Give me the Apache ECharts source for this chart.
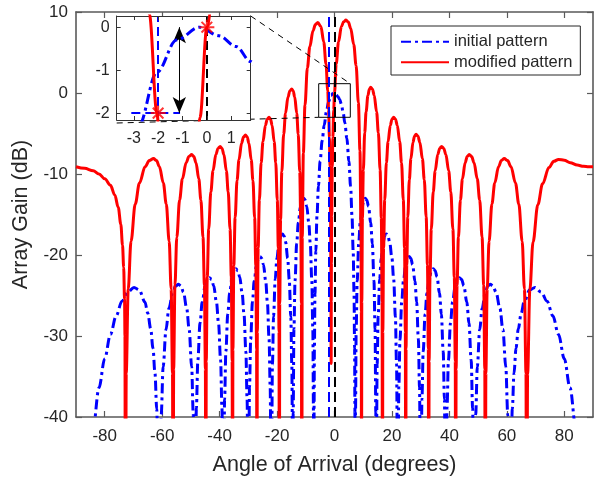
<!DOCTYPE html>
<html><head><meta charset="utf-8">
<script src="https://cdn.jsdelivr.net/npm/echarts@6/dist/echarts.min.js"></script>
<style>html,body{margin:0;padding:0;background:#fff}#c{width:603px;height:478px}</style>
</head><body><div id="c"></div>
<script>
// ---- data (angle in degrees, gain in dB) ----
const initialPattern = [
[-90,-70],[-88,-60],[-86,-48.4],[-84,-41.3],[-82,-36.4],[-80,-32.8],[-78,-29.8],[-76,-27.5],[-74,-25.7],[-72,-24.6],[-69.8,-24.0],[-68,-24.3],[-66,-25.8],[-65,-27.2],[-64,-29.1],[-63.2,-31.5],[-62.5,-34.6],[-61.9,-39],[-61.5,-44.4],[-61,-70],
[-60.8,-50.1],[-60.33,-39.7],[-59.66,-33.8],[-58.66,-29.2],[-57.65,-26.6],[-56.31,-24.6],[-55.31,-23.84],[-54.3,-23.6],[-53.45,-23.84],[-52.59,-24.6],[-51.45,-26.6],[-50.6,-29.2],[-49.74,-33.8],[-49.17,-39.7],[-48.77,-50.1],[-48.6,-70],
[-48.45,-49.3],[-48.09,-38.9],[-47.58,-33.0],[-46.82,-28.4],[-46.05,-25.8],[-45.03,-23.8],[-44.27,-23.04],[-43.5,-22.8],[-42.78,-23.04],[-42.06,-23.8],[-41.1,-25.8],[-40.38,-28.4],[-39.66,-33.0],[-39.18,-38.9],[-38.84,-49.3],[-38.7,-70],
[-38.57,-48.2],[-38.26,-37.8],[-37.82,-31.9],[-37.16,-27.3],[-36.5,-24.7],[-35.62,-22.7],[-34.96,-21.94],[-34.3,-21.7],[-33.66,-21.94],[-33.01,-22.7],[-32.15,-24.7],[-31.51,-27.3],[-30.86,-31.9],[-30.43,-37.8],[-30.13,-48.2],[-30,-70],
[-29.88,-46.7],[-29.59,-36.3],[-29.18,-30.4],[-28.57,-25.8],[-27.95,-23.2],[-27.13,-21.2],[-26.52,-20.44],[-25.9,-20.2],[-25.32,-20.44],[-24.73,-21.2],[-23.95,-23.2],[-23.37,-25.8],[-22.78,-30.4],[-22.39,-36.3],[-22.12,-46.7],[-22,-70],
[-21.88,-43.9],[-21.61,-33.5],[-21.22,-27.6],[-20.64,-23.0],[-20.05,-20.4],[-19.27,-18.4],[-18.69,-17.64],[-18.1,-17.4],[-17.56,-17.64],[-17.02,-18.4],[-16.3,-20.4],[-15.76,-23.0],[-15.22,-27.6],[-14.86,-33.5],[-14.61,-43.9],[-14.5,-70],
[-14.39,-39.5],[-14.12,-29.1],[-13.74,-23.2],[-13.17,-18.6],[-12.6,-16.0],[-11.84,-14.0],[-11.27,-13.24],[-10.7,-13.0],[-10.18,-13.24],[-9.65,-14.0],[-8.95,-16.0],[-8.43,-18.6],[-7.9,-23.2],[-7.55,-29.1],[-7.31,-39.5],[-7.2,-70],
[-7.1,-38.5],[-7.0,-31.5],[-6.8,-24.8],[-6.5,-19.5],[-6.1,-15.2],[-5.6,-11.5],[-5.0,-8.4],[-4.3,-5.9],[-3.6,-4.0],[-2.8,-2.3],[-2.05,-1.05],[-1.24,-0.3],[-0.3,0],[0.5,-0.2],[1.2,-0.45],[1.8,-0.8],[2.4,-1.4],[3.0,-2.4],[3.6,-3.7],[4.3,-5.6],[5.0,-8.4],[5.6,-11.5],[6.1,-15.2],[6.5,-19.5],[6.8,-24.8],[7.0,-31.5],[7.1,-38.5],[7.2,-70],
[7.31,-39.5],[7.55,-29.1],[7.9,-23.2],[8.43,-18.6],[8.95,-16.0],[9.65,-14.0],[10.18,-13.24],[10.7,-13.0],[11.27,-13.24],[11.84,-14.0],[12.6,-16.0],[13.17,-18.6],[13.74,-23.2],[14.12,-29.1],[14.39,-39.5],[14.5,-70],
[14.61,-43.9],[14.85,-33.5],[15.2,-27.6],[15.73,-23.0],[16.25,-20.4],[16.95,-18.4],[17.48,-17.64],[18.0,-17.4],[18.6,-17.64],[19.2,-18.4],[20.0,-20.4],[20.6,-23.0],[21.2,-27.6],[21.6,-33.5],[21.88,-43.9],[22,-70],
[22.12,-46.7],[22.4,-36.3],[22.8,-30.4],[23.4,-25.8],[24.0,-23.2],[24.8,-21.2],[25.4,-20.44],[26.0,-20.2],[26.6,-20.44],[27.2,-21.2],[28.0,-23.2],[28.6,-25.8],[29.2,-30.4],[29.6,-36.3],[29.88,-46.7],[30,-70],
[30.13,-48.2],[30.44,-37.8],[30.88,-31.9],[31.54,-27.3],[32.2,-24.7],[33.08,-22.7],[33.74,-21.94],[34.4,-21.7],[35.05,-21.94],[35.69,-22.7],[36.55,-24.7],[37.2,-27.3],[37.84,-31.9],[38.27,-37.8],[38.57,-48.2],[38.7,-70],
[38.84,-49.3],[39.18,-38.9],[39.66,-33.0],[40.38,-28.4],[41.1,-25.8],[42.06,-23.8],[42.78,-23.04],[43.5,-22.8],[44.27,-23.04],[45.03,-23.8],[46.05,-25.8],[46.82,-28.4],[47.58,-33.0],[48.09,-38.9],[48.45,-49.3],[48.6,-70],
[48.77,-50.1],[49.16,-39.7],[49.72,-33.8],[50.56,-29.2],[51.4,-26.6],[52.52,-24.6],[53.36,-23.84],[54.2,-23.6],[55.22,-23.84],[56.24,-24.6],[57.6,-26.6],[58.62,-29.2],[59.64,-33.8],[60.32,-39.7],[60.8,-50.1],[61,-70],
[61.5,-44.4],[61.9,-39],[62.5,-34.6],[63.2,-31.5],[64,-29.1],[65,-27.2],[66,-25.8],[68,-24.3],[69.8,-24.0],[72,-24.6],[74,-25.7],[76,-27.5],[78,-29.8],[80,-32.8],[82,-36.4],[84,-41.3],[86,-48.4],[88,-60],[90,-70]
];
const modifiedPattern = [
[-90,-9.1],[-87,-9.3],[-84,-9.6],[-82,-10.0],[-80,-10.6],[-78,-11.4],[-76.5,-12.6],[-75.3,-14.1],[-74.4,-16.2],[-73.8,-18.8],[-73.4,-21.5],[-73.1,-25.5],[-72.95,-30],[-72.8,-70],
[-72.51,-34.6],[-71.82,-24.2],[-70.84,-18.3],[-69.37,-13.7],[-67.9,-11.1],[-65.94,-9.1],[-64.47,-8.34],[-63.0,-8.1],[-61.98,-8.34],[-60.96,-9.1],[-59.6,-11.1],[-58.58,-13.7],[-57.56,-18.3],[-56.88,-24.2],[-56.4,-34.6],[-56.2,-70],
[-56.0,-34.1],[-55.55,-23.7],[-54.9,-17.8],[-53.93,-13.2],[-52.95,-10.6],[-51.65,-8.6],[-50.68,-7.84],[-49.7,-7.6],[-48.97,-7.84],[-48.23,-8.6],[-47.25,-10.6],[-46.52,-13.2],[-45.78,-17.8],[-45.29,-23.7],[-44.95,-34.1],[-44.8,-70],
[-44.65,-33.1],[-44.3,-22.7],[-43.8,-16.8],[-43.05,-12.2],[-42.3,-9.6],[-41.3,-7.6],[-40.55,-6.84],[-39.8,-6.6],[-39.16,-6.84],[-38.51,-7.6],[-37.65,-9.6],[-37.01,-12.2],[-36.36,-16.8],[-35.93,-22.7],[-35.63,-33.1],[-35.5,-70],
[-35.37,-31.7],[-35.05,-21.3],[-34.6,-15.4],[-33.93,-10.8],[-33.25,-8.2],[-32.35,-6.2],[-31.68,-5.44],[-31.0,-5.2],[-30.4,-5.44],[-29.8,-6.2],[-29.0,-8.2],[-28.4,-10.8],[-27.8,-15.4],[-27.4,-21.3],[-27.12,-31.7],[-27.0,-70],
[-26.87,-29.5],[-26.58,-19.1],[-26.16,-13.2],[-25.53,-8.6],[-24.9,-6.0],[-24.06,-4.0],[-23.43,-3.24],[-22.8,-3.0],[-22.26,-3.24],[-21.72,-4.0],[-21.0,-6.0],[-20.46,-8.6],[-19.92,-13.2],[-19.56,-19.1],[-19.31,-29.5],[-19.2,-70],
[-19.07,-26.0],[-18.77,-15.6],[-18.34,-9.7],[-17.7,-5.1],[-17.05,-2.5],[-16.19,-0.5],[-15.55,0.26],[-14.9,0.5],[-14.38,0.26],[-13.85,-0.5],[-13.15,-2.5],[-12.63,-5.1],[-12.1,-9.7],[-11.75,-15.6],[-11.51,-26.0],[-11.4,-70],
[-11.23,-17.8],[-10.84,-7.4],[-10.28,-1.5],[-9.44,3.1],[-8.6,5.7],[-7.48,7.7],[-6.64,8.46],[-5.8,8.7],[-4.74,8.2],[-3.74,6.3],[-2.97,3.6],[-2.36,0.3],[-2.05,-2.0],[-1.77,-5.5],[-1.57,-9.1],[-1.37,-15.1],[-1.27,-21],[-1.22,-25.7],[-1.17,-33.4],[-1.12,-25.7],[-1.07,-21],[-0.97,-15.1],[-0.77,-9.1],[-0.57,-5.5],[-0.28,-2.1],[0,0],[0.6,3.6],[1.4,6.3],[2.4,8.2],[3.2,8.8],[4.0,9.0],[4.81,8.76],[5.62,8.0],[6.7,6.0],[7.51,3.4],[8.32,-1.2],[8.86,-7.1],[9.24,-17.5],[9.35,-27],[9.4,-70],
[9.5,-25.8],[9.72,-15.4],[10.04,-9.5],[10.52,-4.9],[11.0,-2.3],[11.64,-0.3],[12.12,0.46],[12.6,0.7],[13.22,0.46],[13.83,-0.3],[14.65,-2.3],[15.27,-4.9],[15.88,-9.5],[16.29,-15.4],[16.58,-25.8],[16.7,-70],
[16.82,-29.5],[17.09,-19.1],[17.48,-13.2],[18.07,-8.6],[18.65,-6.0],[19.43,-4.0],[20.02,-3.24],[20.6,-3.0],[21.23,-3.24],[21.86,-4.0],[22.7,-6.0],[23.33,-8.6],[23.96,-13.2],[24.38,-19.1],[24.67,-29.5],[24.8,-70],
[24.91,-31.6],[25.16,-21.2],[25.52,-15.3],[26.06,-10.7],[26.6,-8.1],[27.32,-6.1],[27.86,-5.34],[28.4,-5.1],[29.06,-5.34],[29.72,-6.1],[30.6,-8.1],[31.26,-10.7],[31.92,-15.3],[32.36,-21.2],[32.67,-31.6],[32.8,-70],
[32.94,-33.1],[33.25,-22.7],[33.7,-16.8],[34.38,-12.2],[35.05,-9.6],[35.95,-7.6],[36.63,-6.84],[37.3,-6.6],[38.04,-6.84],[38.77,-7.6],[39.75,-9.6],[40.49,-12.2],[41.22,-16.8],[41.71,-22.7],[42.05,-33.1],[42.2,-70],
[42.34,-34.1],[42.67,-23.7],[43.14,-17.8],[43.85,-13.2],[44.55,-10.6],[45.49,-8.6],[46.2,-7.84],[46.9,-7.6],[47.74,-7.84],[48.58,-8.6],[49.7,-10.6],[50.54,-13.2],[51.38,-17.8],[51.94,-23.7],[52.33,-34.1],[52.5,-70],
[52.7,-34.6],[53.16,-24.2],[53.82,-18.3],[54.81,-13.7],[55.8,-11.1],[57.12,-9.1],[58.11,-8.34],[59.1,-8.1],[60.27,-8.34],[61.44,-9.1],[63.0,-11.1],[64.17,-13.7],[65.34,-18.3],[66.12,-24.2],[66.67,-34.6],[66.9,-70],
[67.23,-34.7],[68.01,-24.3],[69.12,-18.4],[70.79,-13.8],[72.45,-11.2],[74.67,-9.2],[76.34,-8.44],[78,-8.2],[80,-8.3],[82.1,-8.6],[84.5,-8.9],[86.7,-9.05],[88.5,-9.1],[90,-9.1]
];
const xTicks = [-80,-60,-40,-20,0,20,40,60,80];
const insetXTicks = [-3,-2,-1,0,1];
const insetYTicks = [0,-1,-2];
const markerPoints = [[-2,-2],[0,0]];
const blueRefX = -2;
const blackRefX = 0;
const blueRefLevel = -2;
const blueRefSpan = [-3.1,-1.1];
const arrowX = -1.13;
const arrowSpan = [0,-2];
const zoomBox = {x:[-5.5,5.5], y:[-3.0,1.15]};
const mainRange = {x:[-90,90], y:[-40,10]};
const insetRange = {x:[-3.7,1.8], y:[-2.16,0.26]};

// ---- styling ----
const FONT = "'Liberation Sans', Arial, Helvetica, sans-serif";
const TXT = '#262626';
const AX = '#5a5a5a';
const BLUE = '#0000ff', RED = '#ff0000';

const chart = echarts.init(document.getElementById('c'), null, {renderer:'canvas'});

function mainX(pos, show){
  return {type:'value', gridIndex:0, position:pos, min:mainRange.x[0], max:mainRange.x[1],
    axisLine:{show:true, onZero:false, lineStyle:{color:AX, width:1.6}},
    axisTick:{show:true, inside:true, length:6, customValues:xTicks, lineStyle:{color:AX, width:1.2}},
    axisLabel:{show:show, customValues:xTicks, margin:11, color:TXT, fontSize:17, fontFamily:FONT},
    splitLine:{show:false},
    name: show ? 'Angle of Arrival (degrees)' : '', nameLocation:'middle', nameGap:37,
    nameTextStyle:{color:TXT, fontSize:21.5, fontFamily:FONT}};
}
function mainY(pos, show){
  return {type:'value', gridIndex:0, position:pos, min:mainRange.y[0], max:mainRange.y[1], interval:10,
    axisLine:{show:true, onZero:false, lineStyle:{color:AX, width:1.6}},
    axisTick:{show:true, inside:true, length:6, lineStyle:{color:AX, width:1.2}},
    axisLabel:{show:show, margin:8, color:TXT, fontSize:17, fontFamily:FONT},
    splitLine:{show:false},
    name: show ? 'Array Gain (dB)' : '', nameLocation:'middle', nameGap:43,
    nameTextStyle:{color:TXT, fontSize:21.5, fontFamily:FONT}};
}
function insetX(pos, show){
  return {type:'value', gridIndex:1, position:pos, min:insetRange.x[0], max:insetRange.x[1], z:7,
    axisLine:{show:true, onZero:false, lineStyle:{color:'#333', width:1}},
    axisTick:{show:true, inside:true, length:4, customValues:insetXTicks, lineStyle:{color:'#333', width:1}},
    axisLabel:{show:show, customValues:insetXTicks, margin:11, color:TXT, fontSize:16, fontFamily:FONT},
    splitLine:{show:false}};
}
function insetY(pos, show){
  return {type:'value', gridIndex:1, position:pos, min:insetRange.y[0], max:insetRange.y[1], z:7,
    axisLine:{show:true, onZero:false, lineStyle:{color:'#333', width:1}},
    axisTick:{show:true, inside:true, length:4, customValues:insetYTicks, lineStyle:{color:'#333', width:1}},
    axisLabel:{show:show, customValues:insetYTicks, margin:7, color:TXT, fontSize:16, fontFamily:FONT},
    splitLine:{show:false}};
}

const dashDot = [10,4,3,4];
const star = 'path://M12,0L12,24M0,12L24,12M3.5,3.5L20.5,20.5M3.5,20.5L20.5,3.5';
const lineOpts = {symbol:'none', smooth:0.35, smoothMonotone:'x', clip:true};

const option = {
  animation:false,
  backgroundColor:'#fff',
  grid:[
    {left:76, right:10, top:12, bottom:61, containLabel:false, outerBoundsMode:'none'},
    {left:116.7, top:16, width:134, height:104, containLabel:false, outerBoundsMode:'none',
     show:true, backgroundColor:'#fff', borderWidth:0, z:5}
  ],
  xAxis:[mainX('bottom', true), mainX('top', false), insetX('bottom', true), insetX('top', false)],
  yAxis:[mainY('left', true), mainY('right', false), insetY('left', true), insetY('right', false)],
  legend:{
    data:['initial pattern','modified pattern'], orient:'vertical', left:391, top:26,
    padding:[6.7,8,3.7,9], itemWidth:48, itemHeight:18, itemGap:2.6,
    backgroundColor:'#fff', borderColor:'#262626', borderWidth:1, borderRadius:0,
    itemStyle:{opacity:0},
    textStyle:{color:TXT, fontSize:16.5, fontFamily:FONT, lineHeight:18},
    selectedMode:false, z:20
  },
  series:[
    Object.assign({type:'line', name:'initial pattern', xAxisIndex:0, yAxisIndex:0, data:initialPattern, z:2,
     lineStyle:{color:BLUE, width:3, type:dashDot}, itemStyle:{color:BLUE}}, lineOpts),
    Object.assign({type:'line', name:'modified pattern', xAxisIndex:0, yAxisIndex:0, data:modifiedPattern, z:3,
     lineStyle:{color:RED, width:3, type:'solid'}, itemStyle:{color:RED},
     markLine:{silent:true, symbol:'none', label:{show:false}, animation:false,
       data:[
         {xAxis:blueRefX, lineStyle:{color:BLUE, width:2, type:[10,5]}},
         {xAxis:blackRefX, lineStyle:{color:'#000', width:2, type:[10,5]}}
       ]}}, lineOpts),
    Object.assign({type:'line', name:'inset initial', xAxisIndex:2, yAxisIndex:2, data:initialPattern, z:8,
     lineStyle:{color:BLUE, width:3, type:dashDot}}, lineOpts),
    Object.assign({type:'line', name:'inset modified', xAxisIndex:2, yAxisIndex:2, data:modifiedPattern, z:9,
     lineStyle:{color:RED, width:3, type:'solid'},
     markLine:{silent:true, symbol:'none', label:{show:false}, animation:false,
       data:[
         {xAxis:blueRefX, lineStyle:{color:BLUE, width:2, type:[9,5]}},
         {xAxis:blackRefX, lineStyle:{color:'#000', width:2, type:[9,5]}},
         [{coord:[blueRefSpan[0], blueRefLevel], lineStyle:{color:BLUE, width:2, type:[9,5]}},
          {coord:[blueRefSpan[1], blueRefLevel]}],
         [{coord:[arrowX, arrowSpan[0]], symbol:'arrow', symbolSize:[10,16], lineStyle:{color:'#000', width:1, type:'solid'}},
          {coord:[arrowX, arrowSpan[1]], symbol:'arrow', symbolSize:[10,16]}]
       ]}}, lineOpts),
    {type:'scatter', name:'markers', xAxisIndex:2, yAxisIndex:2, data:markerPoints,
     symbol:star, symbolSize:15, z:12,
     itemStyle:{color:'rgba(0,0,0,0)', borderColor:RED, borderWidth:2}}
  ]
};
chart.setOption(option);

const tl = chart.convertToPixel({xAxisIndex:0, yAxisIndex:0}, [zoomBox.x[0], zoomBox.y[1]]);
const br = chart.convertToPixel({xAxisIndex:0, yAxisIndex:0}, [zoomBox.x[1], zoomBox.y[0]]);
const insTR = chart.convertToPixel({xAxisIndex:2, yAxisIndex:2}, [insetRange.x[1], insetRange.y[1]]);
const insBL = chart.convertToPixel({xAxisIndex:2, yAxisIndex:2}, [insetRange.x[0], insetRange.y[0]]);
chart.setOption({graphic:[
  {type:'rect', z:4, silent:true, shape:{x:tl[0], y:tl[1], width:br[0]-tl[0], height:br[1]-tl[1]},
   style:{fill:'none', stroke:'#000', lineWidth:1}},
  {type:'line', z:4, silent:true, shape:{x1:insTR[0], y1:insTR[1], x2:br[0], y2:tl[1]},
   style:{stroke:'#000', lineWidth:1, lineDash:[6,5]}},
  {type:'line', z:4, silent:true, shape:{x1:insBL[0], y1:insBL[1]+3, x2:tl[0], y2:br[1]},
   style:{stroke:'#000', lineWidth:1, lineDash:[6,5]}}
]});
</script></body></html>
